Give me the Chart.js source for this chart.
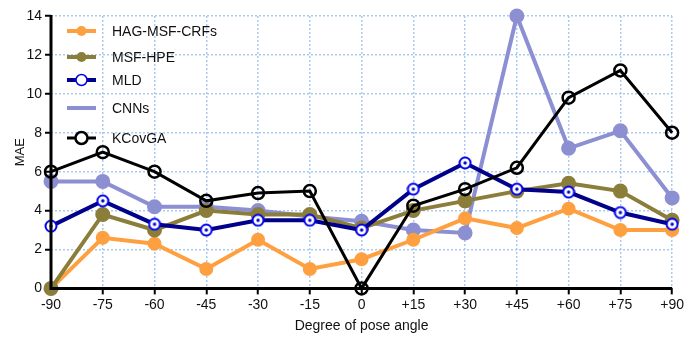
<!DOCTYPE html>
<html><head><meta charset="utf-8">
<script src="https://cdn.jsdelivr.net/npm/chart.js@4"></script>
<style>html,body{margin:0;padding:0;background:#fff}#wrap{width:686px;height:343px}</style>
</head><body><div id="wrap"><canvas id="c" width="686" height="343"></canvas></div>
<script>
const categories = ['-90','-75','-60','-45','-30','-15','0','+15','+30','+45','+60','+75','+90'];
const hagMsfCrfs = [0, 2.6, 2.3, 1.0, 2.5, 1.0, 1.5, 2.5, 3.6, 3.1, 4.1, 3.0, 3.0];
const msfHpe     = [0, 3.8, 3.0, 4.0, 3.8, 3.8, 3.1, 4.0, 4.5, 5.0, 5.4, 5.0, 3.5];
const mld        = [3.2, 4.5, 3.3, 3.0, 3.5, 3.5, 3.0, 5.1, 6.45, 5.1, 4.95, 3.9, 3.3];
const cnns       = [5.5, 5.5, 4.2, 4.2, 4.0, 3.7, 3.45, 3.0, 2.85, 14, 7.2, 8.1, 4.65];
const kcovga     = [6.0, 7.0, 6.0, 4.5, 4.9, 5.0, 0, 4.25, 5.1, 6.2, 9.8, 11.2, 8.0];
const yTicks = [0, 2, 4, 6, 8, 10, 12, 14];

const FONT = '"Liberation Sans", Arial, sans-serif';

function mldMarker(){
  const c = document.createElement('canvas'); c.width = 14; c.height = 14;
  const g = c.getContext('2d');
  g.beginPath(); g.arc(7,7,5.5,0,Math.PI*2); g.fillStyle='#fff'; g.fill();
  g.lineWidth = 2; g.strokeStyle = '#0000EE'; g.stroke();
  g.beginPath(); g.arc(7,7,1.7,0,Math.PI*2); g.fillStyle='#0000CC'; g.fill();
  return c;
}
const mldImg = mldMarker();

const datasets = [
  {label:'KCovGA', data:kcovga, borderColor:'#000', borderWidth:3, pointStyle:'circle', pointRadius:6, pointBorderWidth:2.5, pointBackgroundColor:'rgba(255,255,255,0)', pointBorderColor:'#000', order:1, legendMarker:'open'},
  {label:'MLD', data:mld, borderColor:'#00008B', borderWidth:4, pointStyle:mldImg, pointRadius:7, order:2, legendMarker:'mld'},
  {label:'MSF-HPE', data:msfHpe, borderColor:'#8B7D3A', borderWidth:4, pointStyle:'circle', pointRadius:5.5, pointBackgroundColor:'#8B7D3A', pointBorderColor:'#8B7D3A', order:3, legendMarker:'fill'},
  {label:'HAG-MSF-CRFs', data:hagMsfCrfs, borderColor:'#FFA040', borderWidth:4, pointStyle:'circle', pointRadius:5, pointBackgroundColor:'#FFA040', pointBorderColor:'#FFA040', order:4, legendMarker:'fill'},
  {label:'CNNs', data:cnns, borderColor:'#8C8FD2', borderWidth:4, pointStyle:'circle', pointRadius:5.5, pointBackgroundColor:'#8C8FD2', pointBorderColor:'#8C8FD2', order:5, legendMarker:'none'}
];
datasets.forEach(d=>{d.tension=0; d.clip=false; d.fill=false; d.pointHoverRadius=d.pointRadius;});

const legendOrder = ['HAG-MSF-CRFs','MSF-HPE','MLD','CNNs','KCovGA'];
const legendY = [31, 57, 80, 108, 138];

const legendPlugin = {
  id:'customLegend',
  afterDatasetsDraw(chart){
    const ctx = chart.ctx;
    ctx.save();
    legendOrder.forEach((name,i)=>{
      const ds = chart.data.datasets.find(d=>d.label===name);
      const y = legendY[i];
      const x0 = 67, x1 = 96, xm = (x0+x1)/2;
      ctx.beginPath(); ctx.moveTo(x0,y); ctx.lineTo(x1,y);
      ctx.strokeStyle = ds.borderColor; ctx.lineWidth = ds.borderWidth; ctx.stroke();
      if (ds.legendMarker==='fill'){
        ctx.beginPath(); ctx.arc(xm,y,5,0,Math.PI*2); ctx.fillStyle=ds.pointBackgroundColor; ctx.fill();
      } else if (ds.legendMarker==='open'){
        ctx.beginPath(); ctx.arc(xm,y,6,0,Math.PI*2); ctx.fillStyle='#fff'; ctx.fill();
        ctx.lineWidth=2.5; ctx.strokeStyle='#000'; ctx.stroke();
      } else if (ds.legendMarker==='mld'){
        ctx.beginPath(); ctx.arc(xm,y,5.5,0,Math.PI*2); ctx.fillStyle='#fff'; ctx.fill();
        ctx.lineWidth=1.5; ctx.strokeStyle='#0000EE'; ctx.stroke();
      }
      ctx.fillStyle='#111'; ctx.font='14px '+FONT; ctx.textBaseline='middle'; ctx.textAlign='left';
      ctx.fillText(name, 112, y+1);
    });
    ctx.restore();
  }
};

const axisPlugin = {
  id:'axisLines',
  afterDatasetsDraw(chart){
    const {ctx, chartArea:a} = chart;
    ctx.save();
    ctx.strokeStyle='#000'; ctx.lineWidth=3;
    ctx.beginPath(); ctx.moveTo(a.left, a.top-1); ctx.lineTo(a.left, a.bottom); ctx.lineTo(a.right, a.bottom); ctx.stroke();
    ctx.restore();
  }
};

new Chart(document.getElementById('c'), {
  type:'line',
  data:{labels:categories, datasets},
  options:{
    responsive:false, animation:false, devicePixelRatio:1,
    layout:{padding:{top:16, right:8, left:13, bottom:8}},
    plugins:{legend:{display:false}, tooltip:{enabled:false}},
    scales:{
      x:{
        type:'category', offset:false,
        grid:{color:'#A9CBF2', lineWidth:1.5, drawTicks:true, tickLength:6, tickColor:'#000', tickWidth:2, tickBorderDash:[]},
        border:{display:false, dash:[2,2]},
        ticks:{color:'#111', font:{family:FONT, size:14}, padding:2, maxRotation:0, autoSkip:false},
        title:{display:true, text:'Degree of pose angle', color:'#111', font:{family:FONT, size:14}, padding:{top:3, bottom:0}}
      },
      y:{
        min:0, max:14,
        afterBuildTicks(s){ s.ticks = yTicks.map(v=>({value:v})); },
        afterFit(s){ s.width = 38; },
        grid:{color:'#A9CBF2', lineWidth:1.5, drawTicks:true, tickLength:6, tickColor:'#000', tickWidth:2, tickBorderDash:[]},
        border:{display:false, dash:[2,2]},
        ticks:{color:'#111', font:{family:FONT, size:14}, padding:3},
        title:{display:true, text:'MAE', color:'#111', font:{family:FONT, size:13}, padding:{top:0, bottom:0}}
      }
    }
  },
  plugins:[axisPlugin, legendPlugin]
});
</script></body></html>
